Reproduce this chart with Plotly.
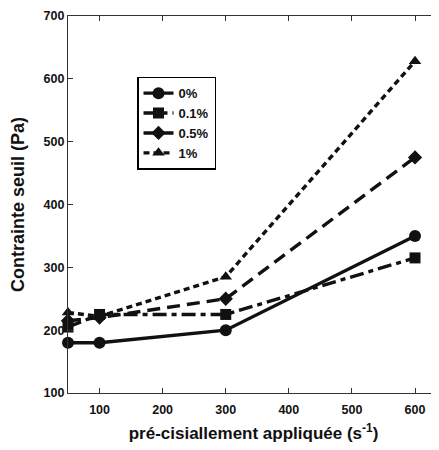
import plotly.graph_objects as go

shear_rates = [50, 100, 300, 600]
s0 = [180, 180, 200, 350]
s01 = [205, 225, 225, 315]
s05 = [215, 220, 250, 475]
s1 = [228, 222, 285, 628]
series_names = ["0%", "0.1%", "0.5%", "1%"]
x_ticks = [100, 200, 300, 400, 500, 600]
y_ticks = [100, 200, 300, 400, 500, 600, 700]

styles = [
    ("solid", "circle", 12),
    ("14px,5px,5px,5px", "square", 11),
    ("13px,7px", "diamond", 11),
    ("6px,4px", "triangle-up", 11),
]

fig = go.Figure()
for name, ys, (dash, sym, ms) in zip(series_names, [s0, s01, s05, s1], styles):
    fig.add_trace(go.Scatter(
        x=shear_rates, y=ys, name=name, mode="lines+markers",
        line=dict(color="#111", width=3.4, dash=dash),
        marker=dict(symbol=sym, size=ms, color="#111"),
        cliponaxis=False,
    ))

font_fam = "Liberation Sans, Arial, sans-serif"
# the page body has an 8px default margin, so the figure is sized to fit
fig.update_layout(
    width=431, height=442,
    margin=dict(l=60, r=0, t=8, b=57),
    plot_bgcolor="white", paper_bgcolor="white",
    font=dict(family=font_fam, color="#111", size=12),
    showlegend=True,
    legend=dict(
        x=0.186, y=0.839, xanchor="left", yanchor="top",
        bgcolor="white", bordercolor="black", borderwidth=1.5,
        font=dict(size=13, family=font_fam, weight="bold", color="#111"),
        tracegroupgap=0, itemwidth=30,
    ),
    xaxis=dict(
        range=[50, 638], tickvals=x_ticks, ticks="inside", ticklen=5,
        tickcolor="#333", showline=True, linecolor="#333", linewidth=1.2,
        mirror="ticks", showgrid=False, zeroline=False, automargin=False,
        ticklabelstandoff=5,
        tickfont=dict(size=12.5, weight="bold", family=font_fam),
        title=dict(text="pré-cisiallement appliquée (s<sup>-1</sup>)",
                   font=dict(size=17, weight="bold", family=font_fam), standoff=11),
    ),
    yaxis=dict(
        range=[100, 700], tickvals=y_ticks, ticks="inside", ticklen=5,
        tickcolor="#333", showline=True, linecolor="#333", linewidth=1.2,
        mirror=False, showgrid=False, zeroline=False, automargin=False,
        tickfont=dict(size=12.5, weight="bold", family=font_fam),
        title=dict(text="Contrainte seuil (Pa)",
                   font=dict(size=18, weight="bold", family=font_fam), standoff=14),
    ),
)
fig.write_html("out.html")
